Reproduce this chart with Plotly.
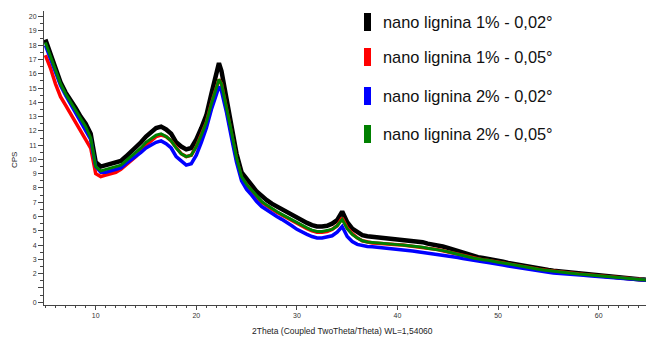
import plotly.graph_objects as go

two_theta = [
    5.0, 5.5, 6.0, 6.5, 7.0, 7.5, 8.0, 8.5, 9.0, 9.5,
    10.0, 10.5, 11.0, 11.5, 12.0, 12.5, 13.0, 13.5, 14.0, 14.5,
    15.0, 15.5, 16.0, 16.5, 17.0, 17.5, 18.0, 18.5, 19.0, 19.5,
    20.0, 20.5, 21.0, 21.5, 22.0, 22.25, 22.5, 23.0, 23.5, 24.0,
    24.5, 25.0, 25.5, 26.0, 26.5, 27.0, 27.5, 28.0, 28.5, 29.0,
    29.5, 30.0, 30.5, 31.0, 31.5, 32.0, 32.5, 33.0, 33.5, 34.0,
    34.5, 35.0, 35.5, 36.0, 36.5, 37.0, 37.5, 38.0, 38.5, 39.0,
    39.5, 40.0, 40.5, 41.0, 41.5, 42.0, 42.5, 43.0, 43.5, 44.0,
    44.5, 45.0, 45.5, 46.0, 46.5, 47.0, 47.5, 48.0, 48.5, 49.0,
    49.5, 50.0, 50.5, 51.0, 51.5, 52.0, 52.5, 53.0, 53.5, 54.0,
    54.5, 55.0, 55.5, 56.0, 56.5, 57.0, 57.5, 58.0, 58.5, 59.0,
    59.5, 60.0, 60.5, 61.0, 61.5, 62.0, 62.5, 63.0, 63.5, 64.0,
    64.5, 64.7,
]

nl1_002 = [
    18.4, 17.4, 16.3, 15.4, 14.7, 14.2, 13.6, 13.0, 12.5, 11.8,
    9.8, 9.5, 9.6, 9.7, 9.8, 9.9, 10.2, 10.5, 10.8, 11.2,
    11.6, 11.9, 12.2, 12.3, 12.1, 11.8, 11.2, 10.9, 10.7, 10.8,
    11.4, 12.2, 13.1, 14.6, 15.9, 16.75, 16.2, 14.2, 12.3, 10.4,
    9.1, 8.6, 8.2, 7.75, 7.4, 7.15, 6.9, 6.7, 6.5, 6.3,
    6.1, 5.9, 5.7, 5.55, 5.4, 5.3, 5.3, 5.35, 5.5, 5.75,
    6.35, 5.6, 5.15, 4.9, 4.7, 4.62, 4.58, 4.55, 4.5, 4.48,
    4.45, 4.45, 4.4, 4.35, 4.3, 4.25, 4.2, 4.1, 4.05, 4.0,
    3.9, 3.8, 3.68, 3.55, 3.45, 3.35, 3.25, 3.15, 3.1, 3.05,
    2.95, 2.9, 2.83, 2.75, 2.68, 2.62, 2.55, 2.48, 2.4, 2.35,
    2.3, 2.25, 2.2, 2.16, 2.12, 2.08, 2.04, 2.0, 1.97, 1.94,
    1.9, 1.86, 1.82, 1.79, 1.76, 1.73, 1.7, 1.66, 1.63, 1.6,
    1.58, 1.57,
]

nl1_005 = [
    17.3, 16.4, 15.3, 14.4, 13.8, 13.2, 12.6, 11.9, 11.4, 10.8,
    9.0, 8.8, 8.9, 9.0, 9.1, 9.3, 9.6, 9.9, 10.2, 10.6,
    11.0, 11.3, 11.6, 11.7, 11.6, 11.3, 10.8, 10.4, 10.2, 10.3,
    10.9, 11.7, 12.6, 13.9, 15.0, 15.6, 15.3, 13.6, 11.8, 10.0,
    8.7, 8.2, 7.8, 7.35, 7.0, 6.75, 6.5, 6.3, 6.1, 5.9,
    5.7, 5.5, 5.3, 5.15, 5.0, 4.9, 4.9, 4.95, 5.1, 5.35,
    5.9, 5.2, 4.8, 4.5, 4.3, 4.2, 4.15, 4.12, 4.08, 4.05,
    4.03, 4.02, 4.0, 3.96, 3.92, 3.88, 3.84, 3.76, 3.72, 3.68,
    3.6, 3.52, 3.42, 3.33, 3.25, 3.17, 3.08, 3.0, 2.96, 2.92,
    2.84, 2.8, 2.74, 2.67, 2.6, 2.55, 2.49, 2.42, 2.35, 2.3,
    2.26, 2.21, 2.17, 2.13, 2.09, 2.05, 2.01, 1.97, 1.94, 1.91,
    1.87, 1.83, 1.8, 1.77, 1.74, 1.71, 1.68, 1.64, 1.61, 1.58,
    1.56, 1.55,
]

nl2_002 = [
    18.0, 17.1, 16.1, 15.2, 14.5, 13.9, 13.3, 12.6, 12.1, 11.4,
    9.5, 9.1, 9.1, 9.2, 9.3, 9.4, 9.7, 9.95, 10.2, 10.5,
    10.8, 11.0, 11.2, 11.3, 11.1, 10.8, 10.2, 9.9, 9.6, 9.7,
    10.3, 11.2, 12.2, 13.5, 14.6, 15.1, 14.8, 13.3, 11.5, 9.8,
    8.5, 7.9, 7.5, 7.05, 6.7, 6.45, 6.2, 6.0, 5.8, 5.6,
    5.35, 5.1, 4.9, 4.75, 4.6, 4.5, 4.5, 4.55, 4.65, 4.9,
    5.3, 4.6, 4.25, 4.05, 3.95, 3.9, 3.88, 3.85, 3.8, 3.75,
    3.72, 3.7, 3.65, 3.62, 3.58, 3.53, 3.48, 3.44, 3.4, 3.37,
    3.32, 3.26, 3.2, 3.13, 3.05, 2.98, 2.92, 2.87, 2.83, 2.78,
    2.7, 2.65, 2.6, 2.53, 2.47, 2.4, 2.35, 2.3, 2.24, 2.2,
    2.15, 2.1, 2.05, 2.03, 2.0, 1.97, 1.94, 1.91, 1.88, 1.85,
    1.82, 1.79, 1.76, 1.73, 1.7, 1.68, 1.65, 1.62, 1.59, 1.56,
    1.54, 1.53,
]

nl2_005 = [
    18.2, 17.2, 16.2, 15.3, 14.6, 14.0, 13.4, 12.8, 12.3, 11.5,
    9.5, 9.2, 9.3, 9.4, 9.5, 9.6, 9.9, 10.2, 10.5, 10.8,
    11.2, 11.45, 11.7, 11.8, 11.6, 11.3, 10.8, 10.4, 10.2, 10.3,
    10.9, 11.7, 12.6, 13.9, 15.0, 15.6, 15.3, 13.7, 11.9, 10.1,
    8.8, 8.25, 7.85, 7.4, 7.05, 6.8, 6.55, 6.35, 6.15, 5.95,
    5.75, 5.55, 5.35, 5.2, 5.05, 4.95, 4.95, 5.0, 5.1, 5.35,
    5.8, 5.15, 4.75, 4.5, 4.3, 4.22, 4.18, 4.15, 4.1, 4.07,
    4.04, 4.03, 4.0, 3.97, 3.93, 3.89, 3.85, 3.78, 3.73, 3.69,
    3.61, 3.53, 3.43, 3.34, 3.26, 3.18, 3.09, 3.01, 2.97, 2.93,
    2.85, 2.8, 2.75, 2.68, 2.61, 2.55, 2.49, 2.42, 2.36, 2.31,
    2.26, 2.21, 2.17, 2.13, 2.09, 2.05, 2.01, 1.97, 1.94, 1.91,
    1.87, 1.83, 1.8, 1.77, 1.74, 1.71, 1.68, 1.64, 1.61, 1.58,
    1.56, 1.55,
]

series_names = [
    "nano lignina 1% - 0,02°",
    "nano lignina 1% - 0,05°",
    "nano lignina 2% - 0,02°",
    "nano lignina 2% - 0,05°",
]
series_values = [nl1_002, nl1_005, nl2_002, nl2_005]
series_colors = ["#000000", "#ff0000", "#0000ff", "#008000"]
series_widths = [4.5, 3.5, 3.5, 3.0]

y_tickvals = list(range(0, 21))
y_ticktext = ["" if v == 1 else str(v) for v in y_tickvals]
x_tickvals = [10, 20, 30, 40, 50, 60]

FONT = "Liberation Sans, Arial, sans-serif"

fig = go.Figure()
for name, vals, col, w in zip(series_names, series_values, series_colors, series_widths):
    fig.add_trace(go.Scatter(
        x=two_theta, y=vals, mode="lines", name=name,
        line=dict(color=col, width=w), showlegend=False,
    ))

# custom legend (paper coordinates)
L, T, W, H = 44, 11, 602, 294
def px(xp):
    return (xp - L) / W
def py(yp):
    return (T + H - yp) / H

leg_centers = [22, 57, 96, 134]
for name, col, cy in zip(series_names, series_colors, leg_centers):
    fig.add_shape(type="rect", xref="paper", yref="paper",
                  x0=px(364), x1=px(371), y0=py(cy + 9), y1=py(cy - 9),
                  fillcolor=col, line=dict(width=0))
    fig.add_annotation(xref="paper", yref="paper", x=px(381), y=py(cy),
                       text=name, showarrow=False, xanchor="left",
                       yanchor="middle",
                       font=dict(family=FONT, size=16.4, color="#111111"))

fig.add_annotation(xref="paper", yref="paper", x=px(342), y=py(331),
                   text="2Theta (Coupled TwoTheta/Theta) WL=1,54060",
                   showarrow=False, xanchor="center", yanchor="middle",
                   font=dict(family=FONT, size=8.5, color="#222222"))
fig.add_annotation(xref="paper", yref="paper", x=px(14), y=py(160),
                   text="CPS", textangle=-90, showarrow=False,
                   xanchor="center", yanchor="middle",
                   font=dict(family=FONT, size=8, color="#222222"))

fig.update_layout(
    width=646, height=338,
    margin=dict(l=L, r=0, t=T, b=338 - T - H),
    paper_bgcolor="white", plot_bgcolor="white",
    font=dict(family=FONT, size=7, color="#333333"),
)
fig.update_xaxes(
    range=[4.86, 64.7], showgrid=False, zeroline=False,
    showline=True, linecolor="#444444", linewidth=1,
    tickmode="array", tickvals=x_tickvals,
    ticks="outside", ticklen=4, tickcolor="#444444",
    minor=dict(dtick=1, ticks="outside", ticklen=2, tickcolor="#444444"),
    tickfont=dict(size=7),
)
fig.update_yaxes(
    range=[-0.2, 20.4], showgrid=False, zeroline=False,
    showline=True, linecolor="#444444", linewidth=1,
    tickmode="array", tickvals=y_tickvals, ticktext=y_ticktext,
    ticks="outside", ticklen=5, tickcolor="#444444",
    minor=dict(dtick=0.5, ticks="outside", ticklen=3, tickcolor="#444444"),
    tickfont=dict(size=7),
)

fig.write_html("out.html")
